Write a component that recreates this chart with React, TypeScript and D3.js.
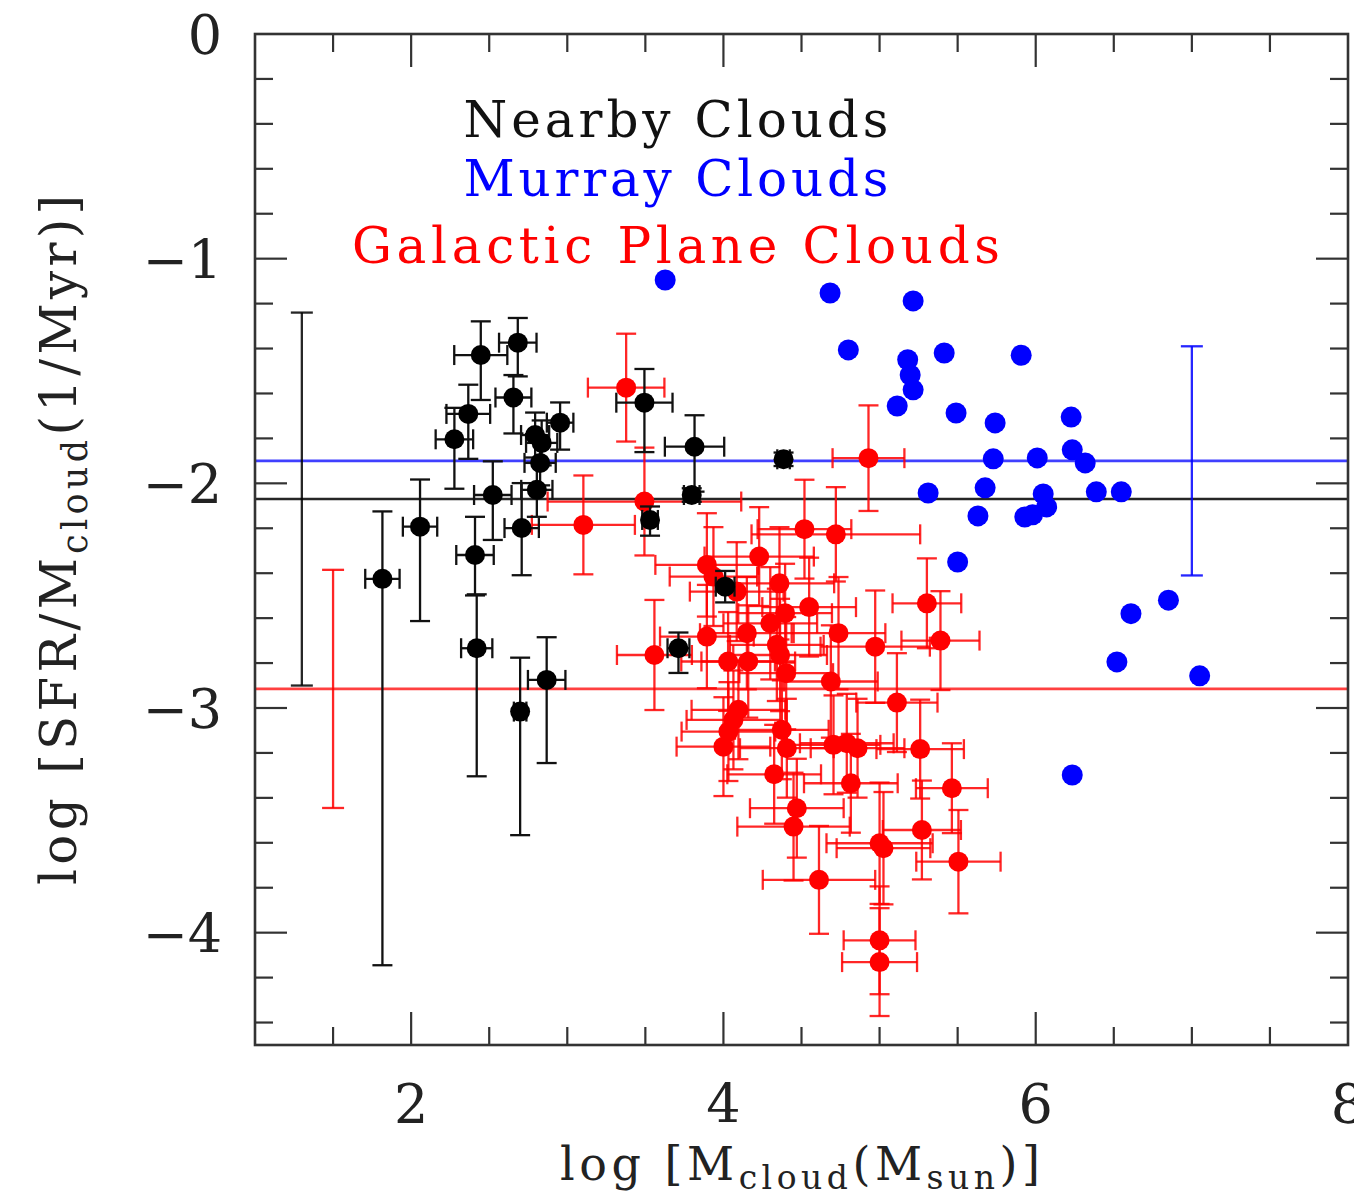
import React from "react";
import * as d3 from "d3";

// Nearby clouds: [logM, logSFR/M, xErr, yErrUp, yErrDown]
const nearbyClouds: number[][] = [
  [2.446, -1.429, 0.17, 0.15, 0.2],
  [2.683, -1.374, 0.12, 0.11, 0.15],
  [2.655, -1.618, 0.115, 0.1, 0.16],
  [2.366, -1.691, 0.14, 0.13, 0.2],
  [2.277, -1.804, 0.12, 0.14, 0.22],
  [2.954, -1.73, 0.085, 0.09, 0.12],
  [2.794, -1.785, 0.09, 0.1, 0.1],
  [2.836, -1.82, 0.1, 0.1, 0.1],
  [2.826, -1.909, 0.1, 0.1, 0.1],
  [2.805, -2.029, 0.1, 0.12, 0.12],
  [2.523, -2.052, 0.12, 0.15, 0.2],
  [2.708, -2.199, 0.11, 0.2, 0.21],
  [2.057, -2.193, 0.11, 0.21, 0.42],
  [2.409, -2.319, 0.12, 0.17, 0.18],
  [2.42, -2.734, 0.1, 0.24, 0.57],
  [1.816, -2.425, 0.11, 0.3, 1.72],
  [2.698, -3.016, 0.04, 0.24, 0.55],
  [2.868, -2.875, 0.12, 0.19, 0.37],
  [3.494, -1.641, 0.18, 0.15, 0.22],
  [3.815, -1.837, 0.19, 0.14, 0.2],
  [4.385, -1.893, 0.04, 0.03, 0.03],
  [3.797, -2.052, 0.05, 0.03, 0.03],
  [3.53, -2.163, 0.05, 0.06, 0.07],
  [4.011, -2.46, 0.06, 0.07, 0.07],
  [3.712, -2.734, 0.07, 0.07, 0.11],
];

// Murray clouds: [logM, logSFR/M]
const murrayClouds: number[][] = [
  [3.627, -1.095], [4.683, -1.153], [5.215, -1.188], [4.8, -1.406],
  [5.18, -1.45], [5.414, -1.42], [5.907, -1.43], [5.196, -1.518],
  [5.215, -1.584], [5.113, -1.656], [5.49, -1.687], [5.74, -1.731],
  [6.227, -1.705], [6.01, -1.887], [5.728, -1.891], [6.234, -1.851],
  [6.317, -1.909], [5.311, -2.043], [5.676, -2.02], [6.048, -2.047],
  [6.07, -2.105], [6.388, -2.038], [6.548, -2.038], [5.63, -2.145],
  [5.93, -2.15], [5.98, -2.14], [5.5, -2.35], [6.61, -2.58],
  [6.85, -2.52], [6.52, -2.795], [7.05, -2.857], [6.234, -3.298],
];

// Galactic plane clouds: [logM, logSFR/M, xErr, yErr]
const galacticClouds: number[][] = [
  [3.377, -1.574, 0.245, 0.24],
  [4.929, -1.888, 0.23, 0.235],
  [3.494, -2.081, 0.62, 0.24],
  [3.103, -2.185, 0.33, 0.22],
  [4.519, -2.204, 0.3, 0.22],
  [4.72, -2.227, 0.54, 0.21],
  [4.229, -2.326, 0.35, 0.22],
  [3.894, -2.363, 0.33, 0.23],
  [3.936, -2.415, 0.28, 0.22],
  [4.085, -2.482, 0.3, 0.22],
  [4.359, -2.445, 0.35, 0.25],
  [4.549, -2.551, 0.3, 0.22],
  [5.303, -2.534, 0.22, 0.2],
  [4.737, -2.667, 0.3, 0.25],
  [4.972, -2.727, 0.35, 0.25],
  [3.558, -2.764, 0.24, 0.245],
  [3.894, -2.682, 0.3, 0.23],
  [4.15, -2.667, 0.3, 0.25],
  [4.3, -2.623, 0.3, 0.25],
  [4.395, -2.578, 0.3, 0.22],
  [5.39, -2.7, 0.25, 0.22],
  [4.342, -2.719, 0.3, 0.25],
  [4.03, -2.793, 0.3, 0.22],
  [4.159, -2.793, 0.3, 0.25],
  [4.363, -2.764, 0.3, 0.25],
  [4.402, -2.845, 0.3, 0.25],
  [4.688, -2.882, 0.3, 0.25],
  [5.111, -2.976, 0.26, 0.22],
  [4.096, -3.008, 0.3, 0.22],
  [4.064, -3.053, 0.3, 0.22],
  [4.032, -3.105, 0.3, 0.22],
  [4.0, -3.172, 0.3, 0.22],
  [4.374, -3.097, 0.3, 0.22],
  [4.406, -3.179, 0.3, 0.22],
  [4.705, -3.164, 0.3, 0.22],
  [4.79, -3.157, 0.3, 0.22],
  [4.859, -3.179, 0.3, 0.22],
  [5.26, -3.183, 0.28, 0.22],
  [4.325, -3.295, 0.3, 0.22],
  [4.816, -3.335, 0.3, 0.22],
  [5.463, -3.357, 0.23, 0.2],
  [4.47, -3.446, 0.3, 0.22],
  [4.449, -3.528, 0.36, 0.24],
  [5.0, -3.602, 0.34, 0.27],
  [5.025, -3.624, 0.3, 0.25],
  [5.271, -3.543, 0.25, 0.22],
  [5.505, -3.684, 0.27, 0.23],
  [4.612, -3.765, 0.36, 0.24],
  [5.0, -4.034, 0.23, 0.24],
  [5.0, -4.131, 0.24, 0.24],
];

// Mean of each sample and its scatter
const sampleNames = ["Nearby Clouds", "Murray Clouds", "Galactic Plane Clouds"];
const sampleColors = ["#000000", "#0000ff", "#ff0000"];
const sampleMeans = [-2.07, -1.9, -2.915];
const sampleScatter = [0.83, 0.51, 0.53];
const scatterBarX = [1.3, 7.0, 1.5];

const xTickLabels = [2, 4, 6, 8];
const yTickLabels = [0, -1, -2, -3, -4];

const W = 1354;
const H = 1198;
const FONT = "'DejaVu Serif', serif";

export default function App() {
  const x = d3.scaleLinear().domain([1, 8]).range([255, 1348]);
  const y = d3.scaleLinear().domain([0, -4.5]).range([34, 1045]);
  const [x0, x1] = x.range();
  const [y0, y1] = y.range();

  const xTicks = d3.range(1.5, 8, 0.5);
  const yTicks = d3.range(1, 23).map((i) => -0.2 * i);
  const isMajorX = (v: number) => Math.abs(v % 2) < 1e-6;
  const isMajorY = (v: number) => Math.abs(v - Math.round(v)) < 1e-6;
  const axisColor = "#333";
  const cap = 10;

  const minus = (v: number) => (v < 0 ? "\u2212" + Math.abs(v) : String(v));

  const errBar = (
    key: string,
    cx: number,
    cy: number,
    xe: number,
    yUp: number,
    yDn: number,
    color: string
  ) => {
    const px = x(cx);
    const py = y(cy);
    const xl = x(cx - xe);
    const xr = x(cx + xe);
    const yt = y(cy + yUp);
    const yb = y(cy - yDn);
    return (
      <g key={key} stroke={color} strokeWidth={2.3} fill="none">
        <line x1={xl} x2={xr} y1={py} y2={py} />
        <line x1={xl} x2={xl} y1={py - cap} y2={py + cap} />
        <line x1={xr} x2={xr} y1={py - cap} y2={py + cap} />
        <line x1={px} x2={px} y1={yt} y2={yb} />
        <line x1={px - cap} x2={px + cap} y1={yt} y2={yt} />
        <line x1={px - cap} x2={px + cap} y1={yb} y2={yb} />
      </g>
    );
  };

  return (
    <svg
      width={W}
      height={H}
      viewBox={`0 0 ${W} ${H}`}
      style={{ position: "absolute", left: 0, top: 0, background: "#fff" }}
    >
      <rect x={0} y={0} width={W} height={H} fill="#fff" />

      {/* mean lines */}
      {sampleMeans.map((m, i) => (
        <line
          key={"mean" + i}
          x1={x0}
          x2={x1}
          y1={y(m)}
          y2={y(m)}
          stroke={sampleColors[i]}
          strokeOpacity={i === 0 ? 0.85 : 0.75}
          strokeWidth={2.6}
        />
      ))}

      {/* scatter bars */}
      {sampleMeans.map((m, i) => {
        const px = x(scatterBarX[i]);
        const yt = y(m + sampleScatter[i]);
        const yb = y(m - sampleScatter[i]);
        return (
          <g key={"sc" + i} stroke={sampleColors[i]} strokeWidth={2.3} strokeOpacity={0.85}>
            <line x1={px} x2={px} y1={yt} y2={yb} />
            <line x1={px - 11} x2={px + 11} y1={yt} y2={yt} />
            <line x1={px - 11} x2={px + 11} y1={yb} y2={yb} />
          </g>
        );
      })}

      {/* galactic plane clouds */}
      <g strokeOpacity={0.85}>
        {galacticClouds.map((d, i) => errBar("gb" + i, d[0], d[1], d[2], d[3], d[3], "#ff0000"))}
      </g>
      {galacticClouds.map((d, i) => (
        <circle key={"gp" + i} cx={x(d[0])} cy={y(d[1])} r={10} fill="#ff0000" />
      ))}

      {/* nearby clouds */}
      {nearbyClouds.map((d, i) => errBar("nb" + i, d[0], d[1], d[2], d[3], d[4], "#111"))}
      {nearbyClouds.map((d, i) => (
        <circle key={"np" + i} cx={x(d[0])} cy={y(d[1])} r={10} fill="#000" />
      ))}

      {/* Murray clouds */}
      {murrayClouds.map((d, i) => (
        <circle key={"mp" + i} cx={x(d[0])} cy={y(d[1])} r={10.5} fill="#0000ff" />
      ))}

      {/* frame */}
      <rect
        x={x0}
        y={y0}
        width={x1 - x0}
        height={y1 - y0}
        fill="none"
        stroke={axisColor}
        strokeWidth={2.6}
      />

      {/* x ticks, bottom and top */}
      {xTicks.map((v) => {
        const len = isMajorX(v) ? 33 : 18;
        return (
          <g key={"xt" + v} stroke={axisColor} strokeWidth={2.2}>
            <line x1={x(v)} x2={x(v)} y1={y1} y2={y1 - len} />
            <line x1={x(v)} x2={x(v)} y1={y0} y2={y0 + len} />
          </g>
        );
      })}

      {/* y ticks, left and right */}
      {yTicks.map((v) => {
        const len = isMajorY(v) ? 32 : 18;
        return (
          <g key={"yt" + v} stroke={axisColor} strokeWidth={2.2}>
            <line x1={x0} x2={x0 + len} y1={y(v)} y2={y(v)} />
            <line x1={x1} x2={x1 - len} y1={y(v)} y2={y(v)} />
          </g>
        );
      })}

      {/* tick labels */}
      {xTickLabels.map((v) => (
        <text
          key={"xl" + v}
          x={x(v)}
          y={1123}
          textAnchor="middle"
          fontFamily={FONT}
          fontSize={54}
          fill="#222"
        >
          {v}
        </text>
      ))}
      {yTickLabels.map((v) => (
        <text
          key={"yl" + v}
          x={222}
          y={y(v) + 20}
          textAnchor="end"
          fontFamily={FONT}
          fontSize={54}
          fill="#222"
        >
          {minus(v)}
        </text>
      ))}

      {/* axis titles */}
      <text
        x={800}
        y={1180}
        textAnchor="middle"
        fontFamily={FONT}
        fontSize={46}
        fill="#222"
        textLength={480}
        lengthAdjust="spacing"
      >
        log [M
        <tspan fontSize={33} dy={9}>cloud</tspan>
        <tspan dy={-9}>(M</tspan>
        <tspan fontSize={33} dy={9}>sun</tspan>
        <tspan dy={-9}>)]</tspan>
      </text>
      <text
        transform="translate(76,540) rotate(-90)"
        textAnchor="middle"
        fontFamily={FONT}
        fontSize={50}
        fill="#222"
        textLength={690}
        lengthAdjust="spacing"
      >
        log [SFR/M
        <tspan fontSize={35} dy={11}>cloud</tspan>
        <tspan dy={-11}>(1/Myr)]</tspan>
      </text>

      {/* legend */}
      {sampleNames.map((name, i) => (
        <text
          key={"lg" + i}
          x={676}
          y={[137, 196, 263][i]}
          textAnchor="middle"
          fontFamily={FONT}
          fontSize={50}
          fill={sampleColors[i] === "#000000" ? "#111" : sampleColors[i]}
          textLength={[425, 425, 648][i]}
          lengthAdjust="spacing"
        >
          {name}
        </text>
      ))}
    </svg>
  );
}
